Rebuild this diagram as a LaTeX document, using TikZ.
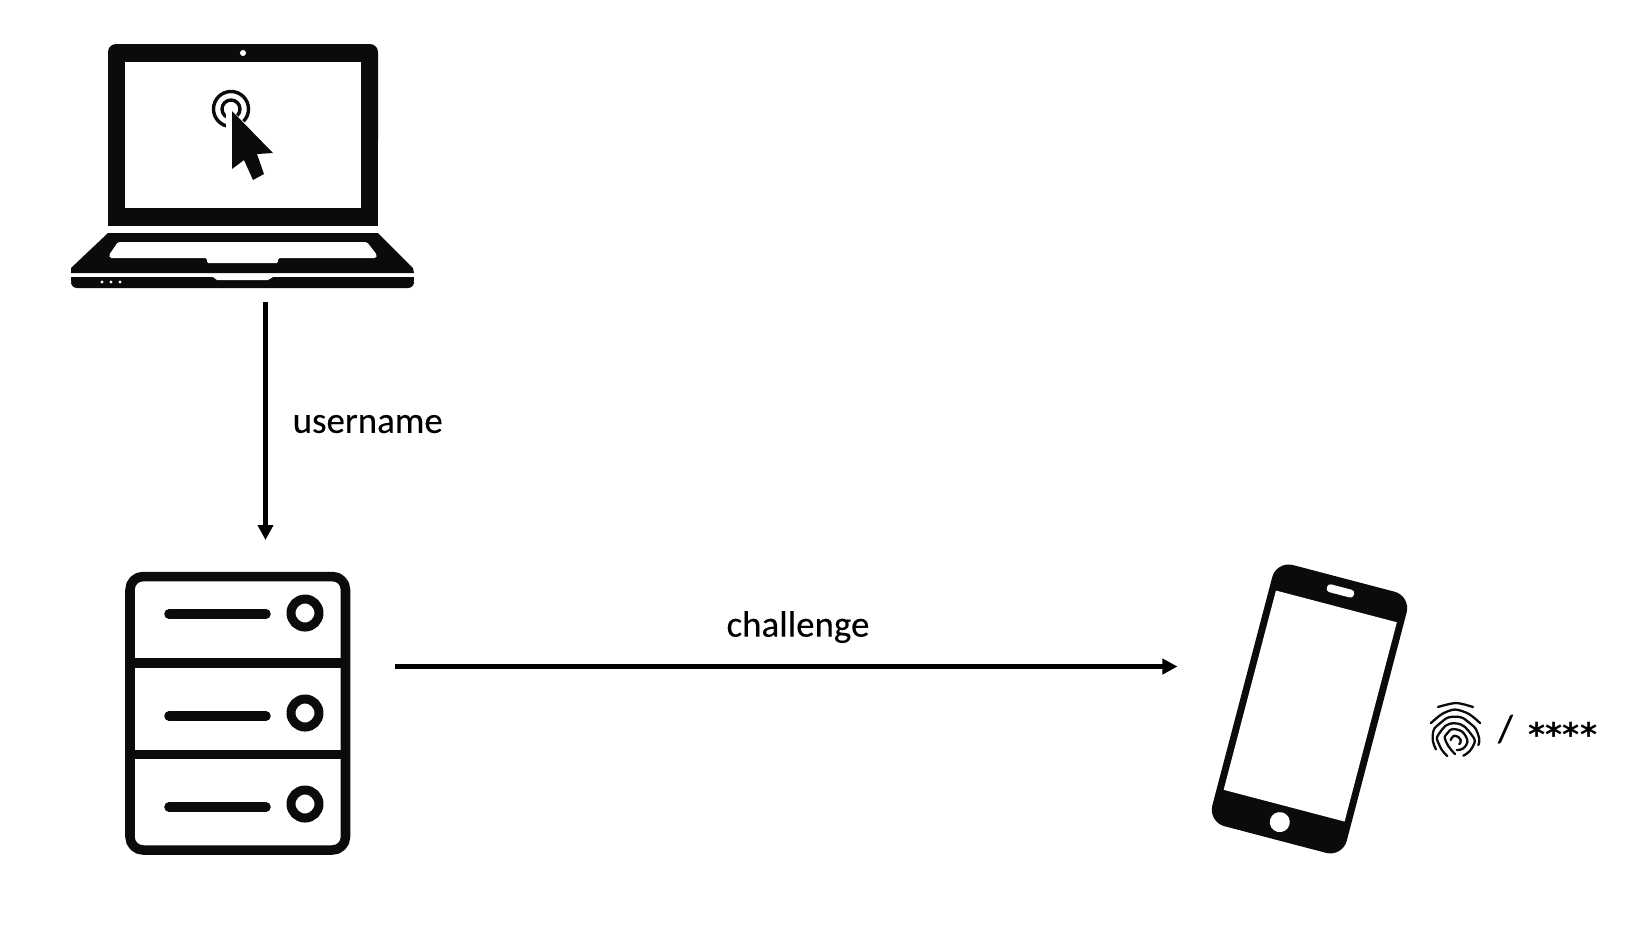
\documentclass[tikz,border=0pt]{standalone}
\usepackage{fontspec}
\setmainfont{Carlito}
\newfontfamily\starfont{DejaVu Sans}
\usetikzlibrary{arrows.meta}
\definecolor{iconblack}{HTML}{0D0A0A}
\tikzset{
  lbl/.style={font=\fontsize{10.5}{12}\selectfont\addfontfeatures{FakeBold=0.15}, inner sep=0pt},
  flow/.style={line width=0.045cm, -{Stealth[inset=0pt, length=0.15cm, width=0.15cm]}},
  ridge/.style={line width=0.023cm, line cap=round, draw=iconblack},
  rackline/.style={line width=0.095cm, draw=iconblack},
}
\begin{document}
\begin{tikzpicture}[x=0.01cm, y=-0.01cm, line cap=round, line join=round]
  \useasboundingbox (0,0) rectangle (1650,950);

  % ── Laptop ───────────────────────────────────────────────────────────────────

  % Lid and screen
  \fill[iconblack, rounded corners=0.08cm] (108,150) -- (108,44) -- (378,44) -- (378,150) -- cycle;
  \fill[iconblack] (108,100) rectangle (378,226);
  \fill[white] (125,62) rectangle (361,208);
  \fill[white] (243,53) circle (0.03cm);

  % Click rings
  \draw[iconblack, line width=0.034cm] (231,109) circle (0.175cm);
  \draw[iconblack, line width=0.034cm] (231,109) circle (0.09cm);

  % Pointer
  \fill[white] (226,105) -- (279,155) -- (262,158) -- (270,176) -- (252,186) -- (243,167) -- (226,180) -- cycle;
  \fill[iconblack] (232,111) -- (273,153) -- (257,154) -- (264,174) -- (253,180) -- (244,160) -- (232,169) -- cycle;

  % Base
  \fill[iconblack] (108,233) -- (378,233) -- (413,268) -- (414,273) -- (71,273) -- (71,268) -- cycle;
  \fill[white, rounded corners=0.015cm] (118,242) -- (367,242) -- (377,255) -- (376,258) -- (278,258)
    -- (278,263) -- (207,263) -- (207,258) -- (110,258) -- (109,255) -- cycle;
  \fill[iconblack, rounded corners=0.06cm] (71,277) -- (414,277) -- (414,288) -- (71,288) -- cycle;
  \fill[iconblack] (71,277) rectangle (414,281);
  \fill[white] (213,277) -- (273,277) -- (268,280) -- (217,280) -- cycle;
  \foreach \xd in {102,111,120}
    \fill[white] (\xd,282) circle (0.016cm);

  % ── Server ───────────────────────────────────────────────────────────────────

  \draw[rackline, rounded corners=0.13cm] (130,576.5) rectangle (345.5,850);
  \draw[rackline, line cap=butt] (130,663) -- (345.5,663);
  \draw[rackline, line cap=butt] (130,754.5) -- (345.5,754.5);
  \foreach \yb/\yc in {614/613, 716/713, 807/804} {
    \draw[rackline] (169,\yb) -- (266,\yb);
    \draw[iconblack, line width=0.09cm] (305,\yc) circle (0.14cm);
  }

  % ── Phone ────────────────────────────────────────────────────────────────────

  \begin{scope}[shift={(1310,707)}, rotate=-14.7]
    \fill[iconblack, rounded corners=0.17cm] (-69.5,-133) rectangle (69.5,137);
    \fill[white] (-62.5,-104) rectangle (62.5,102);
    \fill[white, rounded corners=0.035cm] (-14,-124) rectangle (14,-116);
    \fill[white] (0,119) circle (0.1cm);
  \end{scope}

  % ── Fingerprint ──────────────────────────────────────────────────────────────

  \draw[ridge] plot[smooth] coordinates {(1438,707) (1456,703) (1473,707)};
  \draw[ridge] plot[smooth] coordinates {(1431,723) (1442,714) (1455,709.5) (1469,714) (1480,723)};
  \draw[ridge] plot[smooth, tension=1] coordinates {(1436,749.3) (1432.7,735) (1440,723.3) (1455,716.7) (1470,723.3) (1478.3,735) (1478.3,745)};
  \draw[ridge] plot[smooth, tension=1] coordinates {(1447.3,756) (1439.3,745) (1439.3,733.3) (1455,723.3) (1471.7,735) (1472.7,746.7) (1463.3,755.7)};
  \draw[ridge] plot[smooth, tension=1] coordinates {(1455,754) (1446,741.7) (1447.3,733.3) (1456,729.3) (1466,736.7) (1465,746.7) (1456.7,750)};
  \draw[ridge] plot[smooth, tension=1] coordinates {(1450.7,740) (1455,735.7) (1460.7,740) (1459.3,744)};

  % ── Labels ───────────────────────────────────────────────────────────────────

  \node[lbl, anchor=west] (username) at (292,424) {username};
  \node[lbl] (challenge) at (798,627) {challenge};
  \node[lbl, font=\fontsize{11}{12}\selectfont\addfontfeatures{FakeBold=0.5}] (slash) at (1505.5,729) {/};
  \node[lbl, font=\fontsize{9.3}{12}\starfont\bfseries, anchor=base west] (stars) at (1528,746.5) {****};

  % ── Arrows ───────────────────────────────────────────────────────────────────

  \coordinate (userfrom) at (265.5,302);
  \coordinate (userto) at (265.5,540);
  \coordinate (chalfrom) at (395,666.5);
  \coordinate (chalto) at (1177.5,666.5);
  \draw[flow, line cap=butt] (userfrom) -- (userto);
  \draw[flow, line cap=butt] (chalfrom) -- (chalto);

\end{tikzpicture}
\end{document}
